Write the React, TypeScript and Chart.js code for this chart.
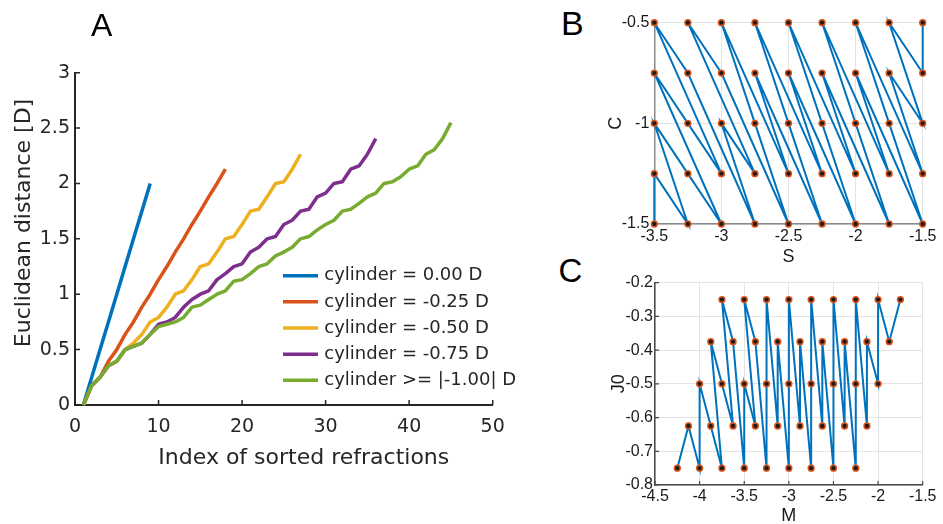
import React, { useEffect, useRef } from 'react';
import { Chart, registerables } from 'chart.js';

Chart.register(...registerables);

// ---------- Panel A data: Euclidean distance of sorted refractions ----------
const cyl000 = [0, 0.25, 0.5, 0.75, 1.0, 1.25, 1.5, 1.75, 2.0];
const cyl025 = [0, 0.1768, 0.25, 0.3953, 0.5, 0.6374, 0.75, 0.8839, 1.0, 1.1319, 1.25, 1.3807, 1.5, 1.6298, 1.75, 1.8792, 2.0, 2.1287];
const cyl050 = [0, 0.1768, 0.25, 0.3536, 0.3953, 0.5, 0.559, 0.6374, 0.75, 0.7906, 0.8839, 1.0, 1.0308, 1.1319, 1.25, 1.2748, 1.3807, 1.5, 1.5207, 1.6298, 1.75, 1.7678, 1.8792, 2.0, 2.0156, 2.1287, 2.2638];
const cyl075 = [0, 0.1768, 0.25, 0.3536, 0.3953, 0.5, 0.5303, 0.559, 0.6374, 0.7289, 0.75, 0.7906, 0.8839, 0.952, 1.0, 1.0308, 1.1319, 1.1859, 1.25, 1.2748, 1.3807, 1.4252, 1.5, 1.5207, 1.6298, 1.6677, 1.75, 1.7678, 1.8792, 1.9121, 2.0, 2.0156, 2.1287, 2.1578, 2.2638, 2.4044];
const cyl100 = [0, 0.1768, 0.25, 0.3536, 0.3953, 0.5, 0.5303, 0.559, 0.6374, 0.7071, 0.7289, 0.75, 0.7906, 0.8839, 0.9014, 0.952, 1.0, 1.0308, 1.118, 1.1319, 1.1859, 1.25, 1.2748, 1.3463, 1.3807, 1.4252, 1.5, 1.5207, 1.5811, 1.6298, 1.6677, 1.75, 1.7678, 1.82, 1.8792, 1.9121, 2.0, 2.0156, 2.0616, 2.1287, 2.1578, 2.2638, 2.3049, 2.4044, 2.5495];
const seriesLabels = ['cylinder = 0.00 D', 'cylinder = -0.25 D', 'cylinder = -0.50 D', 'cylinder = -0.75 D', 'cylinder >= |-1.00| D'];
const seriesColors = ['#0072BD', '#D95319', '#EDB120', '#7E2F8E', '#77AC30'];
const aXTicks = [0, 10, 20, 30, 40, 50];
const aXTickLabels = ['0', '10', '20', '30', '40', '50'];
const aYTicks = [0, 0.5, 1, 1.5, 2, 2.5, 3];
const aYTickLabels = ['0', '0.5', '1', '1.5', '2', '2.5', '3'];
const aXTitle = 'Index of sorted refractions';
const aYTitle = 'Euclidean distance [D]';

// ---------- Panel B data: sorted path in S / C ----------
const pathS = [-3.5, -3.5, -3.25, -3.5, -3.25, -3, -3.5, -3.25, -3, -3.5, -3.25, -2.75, -3, -2.75, -3.25, -3, -2.5, -2.75, -3, -2.5, -2.75, -2.25, -2.5, -2.75, -2.25, -2.5, -2, -2.25, -2.5, -2, -2.25, -1.75, -2, -2.25, -1.75, -2, -1.5, -1.75, -2, -1.5, -1.75, -1.5, -1.75, -1.5, -1.5];
const pathC = [-1.5, -1.25, -1.5, -1, -1.25, -1.5, -0.75, -1, -1.25, -0.5, -0.75, -1.5, -1, -1.25, -0.5, -0.75, -1.5, -1, -0.5, -1.25, -0.75, -1.5, -1, -0.5, -1.25, -0.75, -1.5, -1, -0.5, -1.25, -0.75, -1.5, -1, -0.5, -1.25, -0.75, -1.5, -1, -0.5, -1.25, -0.75, -1, -0.5, -0.75, -0.5];
const bXTicks = [-3.5, -3, -2.5, -2, -1.5];
const bXTickLabels = ['-3.5', '-3', '-2.5', '-2', '-1.5'];
const bYTicks = [-1.5, -1, -0.5];
const bYTickLabels = ['-1.5', '-1', '-0.5'];

// ---------- Panel C data: same path in M / J0 ----------
const pathM = [-4.25, -4.125, -4, -4, -3.875, -3.75, -3.875, -3.75, -3.625, -3.75, -3.625, -3.5, -3.5, -3.375, -3.5, -3.375, -3.25, -3.25, -3.25, -3.125, -3.125, -3, -3, -3, -2.875, -2.875, -2.75, -2.75, -2.75, -2.625, -2.625, -2.5, -2.5, -2.5, -2.375, -2.375, -2.25, -2.25, -2.25, -2.125, -2.125, -2, -2, -1.875, -1.75];
const pathJ0 = [-0.75, -0.625, -0.75, -0.5, -0.625, -0.75, -0.375, -0.5, -0.625, -0.25, -0.375, -0.75, -0.5, -0.625, -0.25, -0.375, -0.75, -0.5, -0.25, -0.625, -0.375, -0.75, -0.5, -0.25, -0.625, -0.375, -0.75, -0.5, -0.25, -0.625, -0.375, -0.75, -0.5, -0.25, -0.625, -0.375, -0.75, -0.5, -0.25, -0.625, -0.375, -0.5, -0.25, -0.375, -0.25];
const cXTicks = [-4.5, -4, -3.5, -3, -2.5, -2, -1.5];
const cXTickLabels = ['-4.5', '-4', '-3.5', '-3', '-2.5', '-2', '-1.5'];
const cYTicks = [-0.8, -0.7, -0.6, -0.5, -0.4, -0.3, -0.2];
const cYTickLabels = ['-0.8', '-0.7', '-0.6', '-0.5', '-0.4', '-0.3', '-0.2'];

const AXIS = '#262626';
const DV = '"DejaVu Sans", sans-serif';
const LS = '"Liberation Sans", Arial, sans-serif';

const fixedTicks = (values: number[]) => (s: any) => {
  s.ticks = values.map((v) => ({ value: v }));
};

const inTicks: any = {
  id: 'inTicks',
  afterDatasetsDraw(chart: any, _a: any, opts: any) {
    const o = opts && opts.len ? opts : chart.options.plugins && chart.options.plugins.inTicks;
    if (!o || !o.len) return;
    const { ctx, chartArea } = chart;
    const xs = chart.scales.x;
    const ys = chart.scales.y;
    ctx.save();
    ctx.strokeStyle = o.color;
    ctx.lineWidth = o.width;
    ctx.beginPath();
    xs.ticks.forEach((t: any) => {
      const p = xs.getPixelForValue(t.value);
      ctx.moveTo(p, chartArea.bottom);
      ctx.lineTo(p, chartArea.bottom - o.len);
    });
    ys.ticks.forEach((t: any) => {
      const p = ys.getPixelForValue(t.value);
      ctx.moveTo(chartArea.left, p);
      ctx.lineTo(chartArea.left + o.len, p);
    });
    ctx.stroke();
    ctx.restore();
  },
};

const aDecor: any = {
  id: 'aDecor',
  afterDraw(chart: any) {
    const ctx = chart.ctx;
    ctx.save();
    // legend
    chart.data.datasets.forEach((ds: any, i: number) => {
      const y = 275.7 + i * 26.15;
      ctx.strokeStyle = ds.borderColor;
      ctx.lineWidth = ds.borderWidth;
      ctx.lineCap = 'butt';
      ctx.beginPath();
      ctx.moveTo(283, y);
      ctx.lineTo(318, y);
      ctx.stroke();
      ctx.fillStyle = AXIS;
      ctx.font = `18px ${DV}`;
      ctx.textAlign = 'left';
      ctx.textBaseline = 'middle';
      ctx.fillText(ds.label, 324.3, y);
    });
    // axis titles
    ctx.fillStyle = AXIS;
    ctx.font = `22px ${DV}`;
    ctx.textAlign = 'center';
    ctx.textBaseline = 'middle';
    ctx.fillText(aXTitle, 303.8, 458);
    ctx.translate(24, 223);
    ctx.rotate(-Math.PI / 2);
    ctx.fillText(aYTitle, 0, 0);
    ctx.restore();
  },
};

function makeA(): any {
  const series = [cyl000, cyl025, cyl050, cyl075, cyl100];
  return {
    type: 'scatter',
    data: {
      datasets: series.map((vals, k) => ({
        label: seriesLabels[k],
        data: vals.map((v, i) => ({ x: i + 1, y: v })),
        showLine: true,
        borderColor: seriesColors[k],
        backgroundColor: seriesColors[k],
        borderWidth: 3.5,
        borderJoinStyle: 'round',
        pointRadius: 0,
        order: 5 - k,
        clip: false,
      })),
    },
    options: {
      animation: false,
      responsive: false,
      devicePixelRatio: 1,
      events: [],
      layout: { padding: { left: 0, top: 72.7, right: 27.3, bottom: 0 } },
      plugins: {
        legend: { display: false },
        tooltip: { enabled: false },
        inTicks: { len: 5, color: AXIS, width: 1.5 },
      },
      scales: {
        x: {
          type: 'linear',
          min: 0,
          max: 50,
          afterBuildTicks: fixedTicks(aXTicks),
          afterFit: (s: any) => { s.height = 75; },
          ticks: { callback: (_v: any, i: number) => aXTickLabels[i], font: { family: DV, size: 19 }, color: AXIS, padding: 11, maxRotation: 0, autoSkip: false },
          grid: { drawOnChartArea: false, drawTicks: false },
          border: { display: true, color: AXIS, width: 2 },
        },
        y: {
          type: 'linear',
          min: 0,
          max: 3,
          afterBuildTicks: fixedTicks(aYTicks),
          afterFit: (s: any) => { s.width = 75; },
          ticks: { callback: (_v: any, i: number) => aYTickLabels[i], font: { family: DV, size: 19 }, color: AXIS, padding: 5, autoSkip: false },
          grid: { drawOnChartArea: false, drawTicks: false },
          border: { display: true, color: AXIS, width: 2 },
        },
      },
    },
    plugins: [inTicks, aDecor],
  };
}

function pathDataset(xs: number[], ys: number[]) {
  return {
    data: xs.map((x, i) => ({ x, y: ys[i] })),
    showLine: true,
    borderColor: '#0072BD',
    borderWidth: 2,
    pointRadius: 2.9,
    pointBorderWidth: 1.5,
    pointBorderColor: '#D95319',
    pointBackgroundColor: '#1c1c1c',
    clip: false,
  };
}

function makeScatter(cfg: {
  xs: number[]; ys: number[];
  xMin: number; xMax: number; yMin: number; yMax: number;
  xTicks: number[]; xLabels: string[]; yTicks: number[]; yLabels: string[];
  xTitle: string; yTitle: string;
  pad: any; yWidth: number; xHeight: number;
  xTickPad: number; yTickPad: number; xTitlePad: number; yTitlePad: number;
  axisColor: string; tickLen: number;
}): any {
  const tickFont = { family: LS, size: 16 };
  const titleFont = { family: LS, size: 18 };
  const grid = { color: '#e3e3e3', lineWidth: 1, drawTicks: false };
  return {
    type: 'scatter',
    data: { datasets: [pathDataset(cfg.xs, cfg.ys)] },
    options: {
      animation: false,
      responsive: false,
      devicePixelRatio: 1,
      events: [],
      layout: { padding: cfg.pad },
      plugins: {
        legend: { display: false },
        tooltip: { enabled: false },
        inTicks: { len: cfg.tickLen, color: cfg.axisColor, width: 1.2 },
      },
      scales: {
        x: {
          type: 'linear',
          min: cfg.xMin,
          max: cfg.xMax,
          afterBuildTicks: fixedTicks(cfg.xTicks),
          afterFit: (s: any) => { s.height = cfg.xHeight; },
          ticks: { callback: (_v: any, i: number) => cfg.xLabels[i], font: tickFont, color: '#1a1a1a', padding: cfg.xTickPad, maxRotation: 0, autoSkip: false },
          grid,
          border: { display: true, color: cfg.axisColor, width: 1.5 },
          title: { display: true, text: cfg.xTitle, font: titleFont, color: '#1a1a1a', padding: { top: 0, bottom: cfg.xTitlePad } },
        },
        y: {
          type: 'linear',
          min: cfg.yMin,
          max: cfg.yMax,
          afterBuildTicks: fixedTicks(cfg.yTicks),
          afterFit: (s: any) => { s.width = cfg.yWidth; },
          ticks: { callback: (_v: any, i: number) => cfg.yLabels[i], font: tickFont, color: '#1a1a1a', padding: cfg.yTickPad, autoSkip: false },
          grid,
          border: { display: true, color: cfg.axisColor, width: 1.5 },
          title: { display: true, text: cfg.yTitle, font: titleFont, color: '#1a1a1a', padding: { top: cfg.yTitlePad, bottom: 0 } },
        },
      },
    },
    plugins: [inTicks],
  };
}

function makeB(): any {
  return makeScatter({
    xs: pathS, ys: pathC,
    xMin: -3.5, xMax: -1.5, yMin: -1.5, yMax: -0.5,
    xTicks: bXTicks, xLabels: bXTickLabels, yTicks: bYTicks, yLabels: bYTickLabels,
    xTitle: 'S', yTitle: 'C',
    pad: { left: 0, top: 22.7, right: 20.3, bottom: 0 },
    yWidth: 64.3, xHeight: 46,
    xTickPad: 3.4, yTickPad: 5, xTitlePad: 2.5, yTitlePad: 15.2,
    axisColor: '#8a8a8a', tickLen: 0,
  });
}

function makeC(): any {
  return makeScatter({
    xs: pathM, ys: pathJ0,
    xMin: -4.5, xMax: -1.5, yMin: -0.8, yMax: -0.2,
    xTicks: cXTicks, xLabels: cXTickLabels, yTicks: cYTicks, yLabels: cYTickLabels,
    xTitle: 'M', yTitle: 'J0',
    pad: { left: 0, top: 12.7, right: 20.3, bottom: 0 },
    yWidth: 65, xHeight: 47,
    xTickPad: 2.4, yTickPad: 2, xTitlePad: 4.9, yTitlePad: 18.2,
    axisColor: '#4a4a4a', tickLen: 4,
  });
}

function ChartCanvas(props: { make: () => any; left: number; top: number; width: number; height: number }) {
  const ref = useRef<HTMLCanvasElement | null>(null);
  useEffect(() => {
    if (!ref.current) return;
    const chart = new Chart(ref.current, props.make());
    return () => chart.destroy();
  }, []);
  return (
    <canvas
      ref={ref}
      width={props.width}
      height={props.height}
      style={{ position: 'absolute', left: props.left, top: props.top, width: props.width, height: props.height }}
    />
  );
}

const letterStyle = (left: number, top: number, size: number): React.CSSProperties => ({
  position: 'absolute',
  left,
  top,
  fontFamily: LS,
  fontSize: size,
  lineHeight: 1,
  color: '#000',
  margin: 0,
});

export default function App() {
  return (
    <div style={{ position: 'absolute', left: 0, top: 0, width: 943, height: 524, overflow: 'hidden', background: '#fff' }}>
      <ChartCanvas make={makeA} left={0} top={0} width={520} height={480} />
      <ChartCanvas make={makeB} left={590} top={0} width={353} height={270} />
      <ChartCanvas make={makeC} left={590} top={270} width={353} height={262} />
      <div style={letterStyle(91, 8.5, 32)}>A</div>
      <div style={letterStyle(561, 6.2, 34)}>B</div>
      <div style={letterStyle(558.5, 254, 33)}>C</div>
    </div>
  );
}
